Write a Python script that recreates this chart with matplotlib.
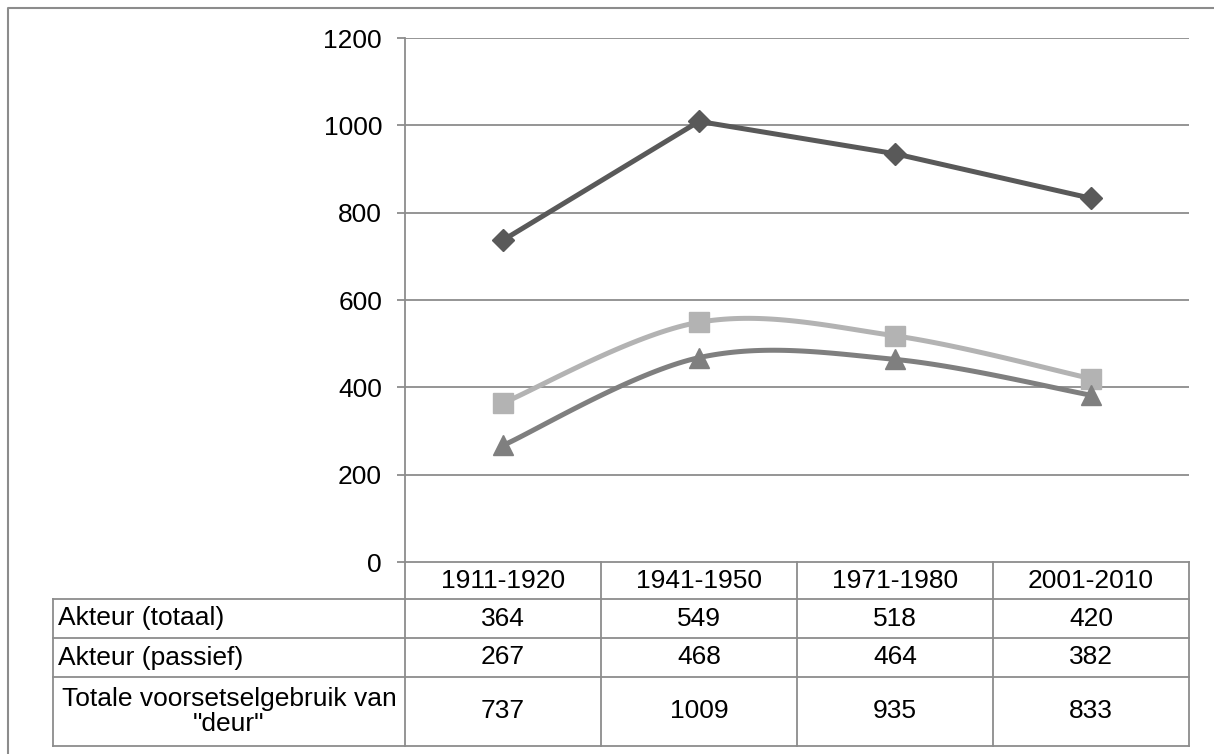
import numpy as np
import matplotlib.pyplot as plt
from matplotlib.lines import Line2D

plt.rcParams['font.family'] = ['Liberation Sans', 'DejaVu Sans']

periods = ["1911-1920", "1941-1950", "1971-1980", "2001-2010"]
akteur_totaal = [364, 549, 518, 420]
akteur_passief = [267, 468, 464, 382]
totaal_deur = [737, 1009, 935, 833]
row_labels = ["Akteur (totaal)", "Akteur (passief)", 'Totale voorsetselgebruik van\n"deur"']
yticks = [0, 200, 400, 600, 800, 1000, 1200]

W, H = 1214, 754
fig = plt.figure(figsize=(W / 100, H / 100), dpi=100)
fs = 19

# pixel layout
left, right, top, bottom = 405, 1189, 38, 562
ax = fig.add_axes([left / W, 1 - bottom / H, (right - left) / W, (bottom - top) / H])
ax.set_xlim(-0.5, len(periods) - 0.5)
ax.set_ylim(0, 1200)
ax.set_yticks(yticks)
ax.set_xticks([])
for y in yticks[1:]:
    ax.axhline(y, color="#8c8c8c", lw=1.3, zorder=0)
for s in ["top", "right", "bottom"]:
    ax.spines[s].set_visible(False)
ax.spines["left"].set_color("#8c8c8c")
ax.spines["left"].set_linewidth(1.3)
ax.tick_params(axis="y", length=5.5, color="#8c8c8c", width=1.3, labelsize=fs, pad=11)


def smooth(xs, ys, n=40):
    # Excel-like smoothing done in screen space
    pts = ax.transData.transform(np.column_stack([xs, ys]))
    p = np.vstack([pts[0], pts, pts[-1]])
    out = []
    for i in range(1, len(p) - 2):
        p0, p1, p2, p3 = p[i - 1], p[i], p[i + 1], p[i + 2]
        c1 = p1 + (p2 - p0) / 6
        c2 = p2 - (p3 - p1) / 6
        t = np.linspace(0, 1, n)[:, None]
        seg = (1 - t) ** 3 * p1 + 3 * (1 - t) ** 2 * t * c1 + 3 * (1 - t) * t ** 2 * c2 + t ** 3 * p2
        out.append(seg)
    out = np.vstack(out)
    d = ax.transData.inverted().transform(out)
    return d[:, 0], d[:, 1]


x = np.arange(len(periods))
sx, sy = smooth(x, akteur_totaal)
ax.plot(sx, sy, color="#b3b3b3", lw=3.6, solid_capstyle="round", zorder=3)
ax.plot(x, akteur_totaal, ls="none", marker="s", ms=14, color="#b3b3b3", zorder=4)
sx, sy = smooth(x, akteur_passief)
ax.plot(sx, sy, color="#7f7f7f", lw=3.6, solid_capstyle="round", zorder=3)
ax.plot(x, akteur_passief, ls="none", marker="^", ms=15, color="#7f7f7f", zorder=4)
ax.plot(x, totaal_deur, color="#595959", lw=3.6, marker="D", ms=11, zorder=5)

# outer frame
fig.add_artist(Line2D([8 / W, 8 / W, 1], [0, 1 - 8 / H, 1 - 8 / H],
                      transform=fig.transFigure, color="#8c8c8c", lw=1.5))

# data table
lc = "#8c8c8c"
tleft = 53
rows_y = [562, 599, 638, 677, 746]
col_x = [left + i * (right - left) / len(periods) for i in range(len(periods) + 1)]


def hline(y, x0, x1):
    fig.add_artist(Line2D([x0 / W, x1 / W], [1 - y / H, 1 - y / H], transform=fig.transFigure, color=lc, lw=1.3))


def vline(x, y0, y1):
    fig.add_artist(Line2D([x / W, x / W], [1 - y0 / H, 1 - y1 / H], transform=fig.transFigure, color=lc, lw=1.3))


hline(rows_y[0], left, right)
for y in rows_y[1:]:
    hline(y, tleft, right)
for cx in col_x:
    vline(cx, rows_y[0], rows_y[-1])
vline(tleft, rows_y[1], rows_y[-1])

for i, p in enumerate(periods):
    cx = (col_x[i] + col_x[i + 1]) / 2
    fig.text(cx / W, 1 - (rows_y[0] + rows_y[1]) / 2 / H, p, ha="center", va="center", fontsize=fs)

series = [akteur_totaal, akteur_passief, totaal_deur]
for r, (lab, vals) in enumerate(zip(row_labels, series)):
    yc = 1 - (rows_y[r + 1] + rows_y[r + 2]) / 2 / H
    if "\n" in lab:
        fig.text((tleft + 176) / W, yc, lab, ha="center", va="center", fontsize=fs, linespacing=1.1)
    else:
        fig.text((tleft + 5) / W, yc, lab, ha="left", va="center", fontsize=fs)
    for i, v in enumerate(vals):
        cx = (col_x[i] + col_x[i + 1]) / 2
        fig.text(cx / W, yc, str(v), ha="center", va="center", fontsize=fs)

fig.savefig("out.png", dpi=100)
